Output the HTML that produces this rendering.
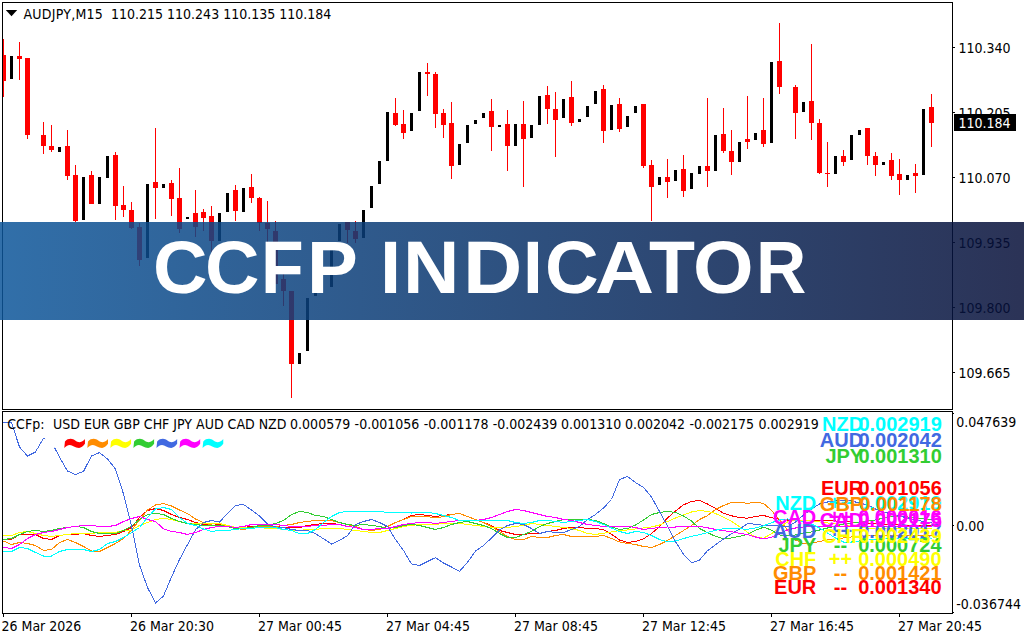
<!DOCTYPE html>
<html><head><meta charset="utf-8"><title>CCFP Indicator</title>
<style>
html,body{margin:0;padding:0;background:#fff;}
body{width:1024px;height:640px;overflow:hidden;position:relative;}
.t{position:absolute;white-space:pre;font-family:'DejaVu Sans Condensed','DejaVu Sans',sans-serif;font-stretch:condensed;font-size:14px;line-height:16px;}
.b{position:absolute;white-space:pre;font-family:'Liberation Sans',Arial,sans-serif;font-size:20px;line-height:22px;font-weight:bold;}
#ban{position:absolute;left:0;top:222px;width:1024px;height:98px;background:linear-gradient(to right,rgba(13,86,154,0.85),rgba(6,15,57,0.85));}
#bt{position:absolute;left:0;top:222px;width:1024px;height:98px;}
#bt span{position:absolute;top:-3.0px;font-family:'Liberation Sans',Arial,sans-serif;font-weight:bold;font-size:74px;line-height:98px;color:#fff;white-space:pre;transform-origin:0 0;}
</style></head><body>
<svg width="1024" height="640" style="position:absolute;left:0;top:0">
<g shape-rendering="crispEdges" fill="none" stroke="#000" stroke-width="1"><rect x="2.5" y="2.5" width="950" height="407"/><rect x="2.5" y="411.5" width="950" height="202"/><line x1="953" y1="47.5" x2="955" y2="47.5"/><line x1="953" y1="112.5" x2="955" y2="112.5"/><line x1="953" y1="177.5" x2="955" y2="177.5"/><line x1="953" y1="242.5" x2="955" y2="242.5"/><line x1="953" y1="307.5" x2="955" y2="307.5"/><line x1="953" y1="372.5" x2="955" y2="372.5"/><line x1="953" y1="413.5" x2="954" y2="413.5"/><line x1="953" y1="525.5" x2="954" y2="525.5"/><line x1="953" y1="612.5" x2="954" y2="612.5"/><line x1="3.5" y1="614" x2="3.5" y2="617"/><line x1="131.5" y1="614" x2="131.5" y2="617"/><line x1="259.5" y1="614" x2="259.5" y2="617"/><line x1="387.5" y1="614" x2="387.5" y2="617"/><line x1="515.5" y1="614" x2="515.5" y2="617"/><line x1="643.5" y1="614" x2="643.5" y2="617"/><line x1="771.5" y1="614" x2="771.5" y2="617"/><line x1="899.5" y1="614" x2="899.5" y2="617"/></g><polygon points="5.8,10 17.2,10 11.5,16.2" fill="#000"/><g shape-rendering="crispEdges"><rect x="3" y="39" width="1" height="58" fill="#f00"/>
<rect x="3" y="55" width="3" height="26" fill="#f00"/>
<rect x="10" y="56" width="3" height="23" fill="#000"/>
<rect x="19" y="42" width="1" height="38" fill="#f00"/>
<rect x="17" y="56" width="5" height="3" fill="#f00"/>
<rect x="27" y="58" width="1" height="81" fill="#f00"/>
<rect x="25" y="58" width="5" height="77" fill="#f00"/>
<rect x="43" y="122" width="1" height="32" fill="#f00"/>
<rect x="41" y="135" width="5" height="11" fill="#f00"/>
<rect x="51" y="125" width="1" height="27" fill="#f00"/>
<rect x="49" y="146" width="5" height="4" fill="#f00"/>
<rect x="58" y="147" width="3" height="5" fill="#000"/>
<rect x="67" y="130" width="1" height="50" fill="#f00"/>
<rect x="65" y="146" width="5" height="30" fill="#f00"/>
<rect x="75" y="165" width="1" height="57" fill="#f00"/>
<rect x="73" y="175" width="5" height="46" fill="#f00"/>
<rect x="82" y="177" width="3" height="43" fill="#000"/>
<rect x="91" y="171" width="1" height="33" fill="#f00"/>
<rect x="89" y="175" width="5" height="29" fill="#f00"/>
<rect x="98" y="177" width="3" height="27" fill="#000"/>
<rect x="106" y="156" width="3" height="22" fill="#000"/>
<rect x="115" y="152" width="1" height="68" fill="#f00"/>
<rect x="113" y="155" width="5" height="51" fill="#f00"/>
<rect x="123" y="186" width="1" height="31" fill="#f00"/>
<rect x="121" y="205" width="5" height="5" fill="#f00"/>
<rect x="131" y="202" width="1" height="27" fill="#f00"/>
<rect x="129" y="210" width="5" height="18" fill="#f00"/>
<rect x="139" y="223" width="1" height="43" fill="#f00"/>
<rect x="137" y="227" width="5" height="33" fill="#f00"/>
<rect x="146" y="184" width="3" height="74" fill="#000"/>
<rect x="155" y="128" width="1" height="91" fill="#f00"/>
<rect x="153" y="182" width="5" height="6" fill="#f00"/>
<rect x="162" y="184" width="3" height="4" fill="#000"/>
<rect x="171" y="180" width="1" height="36" fill="#f00"/>
<rect x="169" y="183" width="5" height="16" fill="#f00"/>
<rect x="179" y="168" width="1" height="65" fill="#f00"/>
<rect x="177" y="198" width="5" height="31" fill="#f00"/>
<rect x="186" y="217" width="3" height="2" fill="#000"/>
<rect x="195" y="190" width="1" height="47" fill="#f00"/>
<rect x="193" y="213" width="5" height="14" fill="#f00"/>
<rect x="203" y="209" width="1" height="22" fill="#f00"/>
<rect x="201" y="212" width="5" height="6" fill="#f00"/>
<rect x="211" y="206" width="1" height="46" fill="#f00"/>
<rect x="209" y="216" width="5" height="25" fill="#f00"/>
<rect x="218" y="213" width="3" height="28" fill="#000"/>
<rect x="226" y="193" width="3" height="19" fill="#000"/>
<rect x="235" y="185" width="1" height="36" fill="#f00"/>
<rect x="233" y="190" width="5" height="21" fill="#f00"/>
<rect x="242" y="188" width="3" height="24" fill="#000"/>
<rect x="251" y="174" width="1" height="29" fill="#f00"/>
<rect x="249" y="187" width="5" height="11" fill="#f00"/>
<rect x="259" y="197" width="1" height="34" fill="#f00"/>
<rect x="257" y="198" width="5" height="25" fill="#f00"/>
<rect x="267" y="201" width="1" height="41" fill="#f00"/>
<rect x="265" y="223" width="5" height="6" fill="#f00"/>
<rect x="275" y="221" width="1" height="63" fill="#f00"/>
<rect x="273" y="231" width="5" height="53" fill="#f00"/>
<rect x="283" y="274" width="1" height="32" fill="#f00"/>
<rect x="281" y="279" width="5" height="12" fill="#f00"/>
<rect x="291" y="291" width="1" height="107" fill="#f00"/>
<rect x="289" y="291" width="5" height="73" fill="#f00"/>
<rect x="298" y="353" width="3" height="11" fill="#000"/>
<rect x="306" y="298" width="3" height="53" fill="#000"/>
<rect x="314" y="293" width="3" height="3" fill="#000"/>
<rect x="330" y="250" width="3" height="37" fill="#000"/>
<rect x="338" y="224" width="3" height="17" fill="#000"/>
<rect x="347" y="222" width="1" height="21" fill="#f00"/>
<rect x="345" y="222" width="5" height="8" fill="#f00"/>
<rect x="355" y="221" width="1" height="22" fill="#f00"/>
<rect x="353" y="231" width="5" height="8" fill="#f00"/>
<rect x="362" y="210" width="3" height="28" fill="#000"/>
<rect x="370" y="186" width="3" height="22" fill="#000"/>
<rect x="378" y="161" width="3" height="23" fill="#000"/>
<rect x="386" y="112" width="3" height="49" fill="#000"/>
<rect x="395" y="98" width="1" height="28" fill="#f00"/>
<rect x="393" y="113" width="5" height="12" fill="#f00"/>
<rect x="403" y="110" width="1" height="29" fill="#f00"/>
<rect x="401" y="124" width="5" height="9" fill="#f00"/>
<rect x="410" y="113" width="3" height="18" fill="#000"/>
<rect x="418" y="72" width="3" height="39" fill="#000"/>
<rect x="427" y="63" width="1" height="33" fill="#f00"/>
<rect x="425" y="72" width="5" height="2" fill="#f00"/>
<rect x="435" y="72" width="1" height="56" fill="#f00"/>
<rect x="433" y="74" width="5" height="40" fill="#f00"/>
<rect x="443" y="109" width="1" height="29" fill="#f00"/>
<rect x="441" y="113" width="5" height="12" fill="#f00"/>
<rect x="451" y="102" width="1" height="77" fill="#f00"/>
<rect x="449" y="123" width="5" height="43" fill="#f00"/>
<rect x="458" y="144" width="3" height="21" fill="#000"/>
<rect x="466" y="125" width="3" height="18" fill="#000"/>
<rect x="474" y="120" width="3" height="4" fill="#000"/>
<rect x="482" y="113" width="3" height="5" fill="#000"/>
<rect x="491" y="99" width="1" height="52" fill="#f00"/>
<rect x="489" y="111" width="5" height="16" fill="#f00"/>
<rect x="498" y="125" width="3" height="2" fill="#000"/>
<rect x="507" y="110" width="1" height="61" fill="#f00"/>
<rect x="505" y="124" width="5" height="22" fill="#f00"/>
<rect x="514" y="124" width="3" height="22" fill="#000"/>
<rect x="523" y="101" width="1" height="86" fill="#f00"/>
<rect x="521" y="124" width="5" height="15" fill="#f00"/>
<rect x="530" y="125" width="3" height="13" fill="#000"/>
<rect x="538" y="96" width="3" height="29" fill="#000"/>
<rect x="547" y="86" width="1" height="38" fill="#f00"/>
<rect x="545" y="95" width="5" height="14" fill="#f00"/>
<rect x="555" y="92" width="1" height="65" fill="#f00"/>
<rect x="553" y="109" width="5" height="11" fill="#f00"/>
<rect x="562" y="99" width="3" height="19" fill="#000"/>
<rect x="571" y="81" width="1" height="45" fill="#f00"/>
<rect x="569" y="97" width="5" height="26" fill="#f00"/>
<rect x="578" y="119" width="3" height="3" fill="#000"/>
<rect x="586" y="106" width="3" height="11" fill="#000"/>
<rect x="594" y="91" width="3" height="13" fill="#000"/>
<rect x="603" y="85" width="1" height="58" fill="#f00"/>
<rect x="601" y="89" width="5" height="42" fill="#f00"/>
<rect x="610" y="105" width="3" height="25" fill="#000"/>
<rect x="619" y="98" width="1" height="34" fill="#f00"/>
<rect x="617" y="104" width="5" height="25" fill="#f00"/>
<rect x="626" y="116" width="3" height="11" fill="#000"/>
<rect x="634" y="106" width="3" height="7" fill="#000"/>
<rect x="643" y="104" width="1" height="64" fill="#f00"/>
<rect x="641" y="104" width="5" height="62" fill="#f00"/>
<rect x="651" y="160" width="1" height="61" fill="#f00"/>
<rect x="649" y="165" width="5" height="22" fill="#f00"/>
<rect x="658" y="177" width="3" height="8" fill="#000"/>
<rect x="667" y="159" width="1" height="39" fill="#f00"/>
<rect x="665" y="177" width="5" height="5" fill="#f00"/>
<rect x="674" y="170" width="3" height="11" fill="#000"/>
<rect x="683" y="155" width="1" height="42" fill="#f00"/>
<rect x="681" y="169" width="5" height="22" fill="#f00"/>
<rect x="690" y="173" width="3" height="16" fill="#000"/>
<rect x="698" y="166" width="3" height="8" fill="#000"/>
<rect x="707" y="98" width="1" height="89" fill="#f00"/>
<rect x="705" y="166" width="5" height="5" fill="#f00"/>
<rect x="714" y="135" width="3" height="36" fill="#000"/>
<rect x="723" y="108" width="1" height="45" fill="#f00"/>
<rect x="721" y="134" width="5" height="17" fill="#f00"/>
<rect x="731" y="130" width="1" height="45" fill="#f00"/>
<rect x="729" y="151" width="5" height="11" fill="#f00"/>
<rect x="738" y="142" width="3" height="20" fill="#000"/>
<rect x="747" y="96" width="1" height="53" fill="#f00"/>
<rect x="745" y="139" width="5" height="3" fill="#f00"/>
<rect x="754" y="133" width="3" height="7" fill="#000"/>
<rect x="763" y="98" width="1" height="49" fill="#f00"/>
<rect x="761" y="130" width="5" height="14" fill="#f00"/>
<rect x="770" y="62" width="3" height="81" fill="#000"/>
<rect x="779" y="23" width="1" height="71" fill="#f00"/>
<rect x="777" y="61" width="5" height="26" fill="#f00"/>
<rect x="795" y="85" width="1" height="54" fill="#f00"/>
<rect x="793" y="87" width="5" height="26" fill="#f00"/>
<rect x="802" y="102" width="3" height="10" fill="#000"/>
<rect x="811" y="44" width="1" height="96" fill="#f00"/>
<rect x="809" y="101" width="5" height="22" fill="#f00"/>
<rect x="819" y="119" width="1" height="55" fill="#f00"/>
<rect x="817" y="123" width="5" height="50" fill="#f00"/>
<rect x="827" y="142" width="1" height="45" fill="#f00"/>
<rect x="825" y="173" width="5" height="1" fill="#f00"/>
<rect x="834" y="156" width="3" height="18" fill="#000"/>
<rect x="843" y="150" width="1" height="16" fill="#f00"/>
<rect x="841" y="156" width="5" height="6" fill="#f00"/>
<rect x="850" y="135" width="3" height="25" fill="#000"/>
<rect x="858" y="130" width="3" height="5" fill="#000"/>
<rect x="867" y="128" width="1" height="37" fill="#f00"/>
<rect x="865" y="128" width="5" height="28" fill="#f00"/>
<rect x="875" y="152" width="1" height="24" fill="#f00"/>
<rect x="873" y="156" width="5" height="9" fill="#f00"/>
<rect x="882" y="162" width="3" height="3" fill="#000"/>
<rect x="891" y="153" width="1" height="27" fill="#f00"/>
<rect x="889" y="160" width="5" height="16" fill="#f00"/>
<rect x="899" y="159" width="1" height="36" fill="#f00"/>
<rect x="897" y="174" width="5" height="6" fill="#f00"/>
<rect x="906" y="175" width="3" height="5" fill="#000"/>
<rect x="915" y="164" width="1" height="29" fill="#f00"/>
<rect x="913" y="173" width="5" height="3" fill="#f00"/>
<rect x="922" y="109" width="3" height="66" fill="#000"/>
<rect x="931" y="94" width="1" height="53" fill="#f00"/>
<rect x="929" y="107" width="5" height="16" fill="#f00"/></g><svg x="3" y="412" width="949" height="201" overflow="hidden"><g transform="translate(-3,-412)"><polyline points="3,539.5 3.5,539.5 11.5,539.5 19.5,534.5 27.5,534.5 35.5,534.5 43.5,538.5 51.5,539.5 59.5,535.5 67.5,534.5 75.5,534.5 83.5,533.5 91.5,535.5 99.5,536.5 107.5,535.5 115.5,534.5 123.5,531.5 131.5,527.5 139.5,517.5 147.5,510.5 155.5,508.5 163.5,510.5 171.5,514.5 179.5,517.5 187.5,519.5 195.5,522.5 203.5,524.5 211.5,525.5 219.5,524.5 227.5,525.5 235.5,527.5 243.5,527.5 251.5,526.5 259.5,526.5 267.5,526.5 275.5,526.5 283.5,527.5 291.5,527.5 299.5,527.5 307.5,525.5 315.5,524.5 323.5,523.5 331.5,523.5 339.5,524.5 347.5,526.5 355.5,527.5 363.5,529.5 371.5,529.5 379.5,528.5 387.5,526.5 395.5,522.5 403.5,519.5 411.5,515.5 419.5,514.5 427.5,515.5 435.5,516.5 443.5,515.5 451.5,514.5 459.5,513.5 467.5,516.5 475.5,519.5 483.5,522.5 491.5,525.5 499.5,530.5 507.5,532.5 515.5,534.5 523.5,534.5 531.5,533.5 539.5,533.5 547.5,531.5 555.5,530.5 563.5,528.5 571.5,527.5 579.5,527.5 587.5,528.5 595.5,528.5 603.5,529.7 611.5,534.2 619.5,540 627.5,542.5 635.5,541.5 643.5,538.8 651.5,533.5 659.5,526.8 667.5,518 675.5,511 683.5,504.8 691.5,501.5 699.5,500.5 707.5,504 715.5,508.3 723.5,513.2 731.5,515.8 739.5,517.5 747.5,518.2 755.5,516.5 763.5,515.4 771.5,517.8 779.5,519.2 787.5,520 795.5,520 803.5,520 811.5,520 819.5,520 827.5,520.5 835.5,521 843.5,521.5 851.5,522 859.5,522.5 867.5,523 875.5,523.5 883.5,524 891.5,524.5 899.5,525 907.5,525 915.5,525 923.5,525 931.5,525" fill="none" stroke="#ff0000" stroke-width="1" shape-rendering="crispEdges"/><polyline points="3,541 3.5,541 11.5,544.5 19.5,542.5 27.5,543.5 35.5,545.5 43.5,550.5 51.5,549.5 59.5,542.5 67.5,539.5 75.5,542.5 83.5,546.5 91.5,551 99.5,551.5 107.5,547.5 115.5,543.5 123.5,538.5 131.5,530 139.5,520 147.5,510 155.5,505 163.5,503.5 171.5,506 179.5,510 187.5,513.5 195.5,519 203.5,522.5 211.5,525 219.5,525 227.5,526.5 235.5,528.5 243.5,529.5 251.5,527.5 259.5,526.5 267.5,526.5 275.5,526.5 283.5,525.5 291.5,524.5 299.5,522.5 307.5,521.5 315.5,520.5 323.5,520.5 331.5,520.5 339.5,522.5 347.5,524.5 355.5,526.5 363.5,529.5 371.5,530.5 379.5,529.5 387.5,526.5 395.5,522.5 403.5,519.5 411.5,516.5 419.5,516.5 427.5,516.5 435.5,518 443.5,516.5 451.5,514.5 459.5,513.5 467.5,516.5 475.5,519.5 483.5,522.5 491.5,526.5 499.5,531.5 507.5,536.5 515.5,539.5 523.5,539.5 531.5,536.5 539.5,537.5 547.5,537.5 555.5,535.5 563.5,534.5 571.5,536.5 579.5,536.5 587.5,536.5 595.5,536.5 603.5,535.5 611.5,538.5 619.5,542 627.5,543.5 635.5,544.5 643.5,546.5 651.5,547.5 659.5,544.5 667.5,540.5 675.5,535.5 683.5,530.5 691.5,525.5 699.5,519.5 707.5,515.6 715.5,509.5 723.5,505.5 731.5,502.5 739.5,502.3 747.5,503.3 755.5,502.5 763.5,503.3 771.5,510.5 779.5,519.5 787.5,530 795.5,540 803.5,543.5 811.5,543 819.5,541.5 827.5,540 835.5,539 843.5,538 851.5,537 859.5,536.5 867.5,536 875.5,535.5 883.5,535 891.5,535 899.5,535 907.5,535 915.5,535 923.5,535 931.5,535" fill="none" stroke="#ff8c00" stroke-width="1" shape-rendering="crispEdges"/><polyline points="3,535.5 3.5,535.5 11.5,535.5 19.5,532.5 27.5,531.5 35.5,533.5 43.5,535.5 51.5,536.5 59.5,535.5 67.5,534.5 75.5,533.5 83.5,533.5 91.5,533.5 99.5,532.5 107.5,532.5 115.5,532.5 123.5,530.5 131.5,530 139.5,525.5 147.5,522.5 155.5,519.5 163.5,518.5 171.5,519.5 179.5,521.5 187.5,523.5 195.5,523.5 203.5,523.5 211.5,523.5 219.5,523.5 227.5,525.5 235.5,527.5 243.5,527.5 251.5,527.5 259.5,527.5 267.5,528.5 275.5,528.5 283.5,529.5 291.5,530.5 299.5,530.5 307.5,529.5 315.5,529.5 323.5,528.5 331.5,528.5 339.5,528.5 347.5,529.5 355.5,530.5 363.5,531.5 371.5,532.5 379.5,532.5 387.5,530.5 395.5,528.5 403.5,526.5 411.5,525.5 419.5,524.5 427.5,524.5 435.5,524.5 443.5,523.5 451.5,523.5 459.5,523.5 467.5,524.5 475.5,525.5 483.5,526.5 491.5,527.5 499.5,527.5 507.5,527.5 515.5,526.5 523.5,525.5 531.5,523.5 539.5,524.5 547.5,525.5 555.5,526.5 563.5,527.5 571.5,528.5 579.5,530.5 587.5,533.5 595.5,534.5 603.5,533.2 611.5,532 619.5,530.5 627.5,530 635.5,529 643.5,528 651.5,527 659.5,525 667.5,521.5 675.5,518 683.5,515 691.5,512 699.5,510.5 707.5,511.4 715.5,513.5 723.5,517.2 731.5,521.4 739.5,526.6 747.5,532.2 755.5,536.8 763.5,538.2 771.5,533.7 779.5,527.5 787.5,522 795.5,520 803.5,520 811.5,521 819.5,522 827.5,523 835.5,524 843.5,525 851.5,526 859.5,527 867.5,528 875.5,528 883.5,528 891.5,528 899.5,528 907.5,528 915.5,528 923.5,528 931.5,528" fill="none" stroke="#ffff00" stroke-width="1" shape-rendering="crispEdges"/><polyline points="3,539.5 3.5,539.5 11.5,538.5 19.5,534.5 27.5,531.5 35.5,530.5 43.5,531.5 51.5,530.5 59.5,528.5 67.5,527.5 75.5,526.5 83.5,527.5 91.5,531.5 99.5,533.5 107.5,533.5 115.5,533.5 123.5,530.5 131.5,526 139.5,519.5 147.5,514.5 155.5,513.5 163.5,514.5 171.5,518.5 179.5,521.5 187.5,523.5 195.5,524.5 203.5,525.5 211.5,525.5 219.5,525.5 227.5,526.5 235.5,528.5 243.5,528.5 251.5,527.5 259.5,525.5 267.5,525.5 275.5,523.5 283.5,520.5 291.5,514.5 299.5,511.5 307.5,512.5 315.5,515.5 323.5,516.5 331.5,519.5 339.5,522.5 347.5,524.5 355.5,525.5 363.5,524.5 371.5,525.5 379.5,526.5 387.5,528.5 395.5,527.5 403.5,525.5 411.5,524.5 419.5,525.5 427.5,527.5 435.5,529.5 443.5,527.5 451.5,524.5 459.5,522.5 467.5,521.5 475.5,523.5 483.5,525.5 491.5,528.5 499.5,533.5 507.5,537.5 515.5,537.5 523.5,534.5 531.5,531.5 539.5,526.5 547.5,523.5 555.5,521.5 563.5,519.5 571.5,519.5 579.5,519.5 587.5,519.5 595.5,520.5 603.5,523.5 611.5,527 619.5,529.5 627.5,528.5 635.5,525 643.5,520 651.5,514.5 659.5,512.5 667.5,511.5 675.5,512.5 683.5,516 691.5,521 699.5,528.5 707.5,532.6 715.5,536.4 723.5,538.7 731.5,538 739.5,536.4 747.5,534.3 755.5,530.3 763.5,527.2 771.5,530.1 779.5,535 787.5,536 795.5,535 803.5,533 811.5,532 819.5,530 827.5,528 835.5,526 843.5,524 851.5,523 859.5,522 867.5,521 875.5,520 883.5,518 891.5,516 899.5,516 907.5,517 915.5,518 923.5,519 931.5,520" fill="none" stroke="#32cd32" stroke-width="1" shape-rendering="crispEdges"/><polyline points="3,422.6 3.5,422.6 11.5,422.6 19.5,447 27.5,456 35.5,452 43.5,438.2 51.5,442 59.5,457 67.5,471 75.5,474.5 83.5,471.4 91.5,456 99.5,452.6 107.5,459 115.5,469 123.5,494 131.5,526 139.5,565 147.5,587.5 155.5,603 163.5,596 171.5,577 179.5,559.5 187.5,544.6 195.5,529.75 203.5,522.5 211.5,520.5 219.5,522 227.5,513.5 235.5,505.5 243.5,504.5 251.5,510 259.5,516 267.5,524 275.5,527 283.5,527.5 291.5,529.5 299.5,530.5 307.5,530.5 315.5,533.75 323.5,538.75 331.5,544 339.5,540.5 347.5,535.5 355.5,524.5 363.5,521.5 371.5,519.5 379.5,522.5 387.5,526.5 395.5,539.5 403.5,550.5 411.5,564 419.5,565.5 427.5,561.5 435.5,557.6 443.5,563 451.5,567 459.5,571.3 467.5,562.3 475.5,551 483.5,545.5 491.5,538 499.5,530 507.5,525.5 515.5,523.5 523.5,524.5 531.5,528.5 539.5,533.5 547.5,531.5 555.5,532.5 563.5,532.5 571.5,529.5 579.5,526.5 587.5,519.5 595.5,514.5 603.5,508 611.5,499.5 619.5,479.5 627.5,476.5 635.5,482.5 643.5,487.5 651.5,497 659.5,511.5 667.5,526 675.5,541.6 683.5,554.2 691.5,562.8 699.5,560 707.5,550.7 715.5,544.7 723.5,539 731.5,533.8 739.5,529 747.5,523.6 755.5,524.2 763.5,525.4 771.5,525.3 779.5,526.2 787.5,527 795.5,522 803.5,515 811.5,509 819.5,504 827.5,502 835.5,501 843.5,500.5 851.5,501 859.5,503 867.5,505 875.5,509 883.5,512 891.5,514 899.5,516 907.5,518 915.5,520 923.5,521.5 931.5,523" fill="none" stroke="#4169e1" stroke-width="1" shape-rendering="crispEdges"/><polyline points="3,547.5 3.5,547.5 11.5,548.5 19.5,544.5 27.5,538.5 35.5,534.5 43.5,532.5 51.5,531.5 59.5,529.5 67.5,527.5 75.5,526.5 83.5,525.5 91.5,525.5 99.5,526.5 107.5,526.5 115.5,525.5 123.5,521.5 131.5,518.5 139.5,516.5 147.5,519.5 155.5,521.5 163.5,528.75 171.5,531.5 179.5,532.5 187.5,534.5 195.5,532.5 203.5,529.5 211.5,527.5 219.5,526.5 227.5,526.5 235.5,527.5 243.5,526.5 251.5,524.5 259.5,524.5 267.5,524.5 275.5,524.5 283.5,525.5 291.5,526.5 299.5,526.5 307.5,526.5 315.5,525.5 323.5,525.5 331.5,524.5 339.5,524.5 347.5,526.5 355.5,527.5 363.5,529.5 371.5,529.5 379.5,528.5 387.5,528.5 395.5,526.5 403.5,524.5 411.5,523.5 419.5,522.5 427.5,522.5 435.5,523.5 443.5,522.5 451.5,521.5 459.5,520.5 467.5,520.5 475.5,520.5 483.5,519.5 491.5,517.5 499.5,514.5 507.5,511.5 515.5,509.5 523.5,510.5 531.5,512.5 539.5,514.5 547.5,516.5 555.5,517.5 563.5,519.5 571.5,520.5 579.5,522.5 587.5,524.5 595.5,525.5 603.5,526.5 611.5,526.5 619.5,526.5 627.5,526.5 635.5,527.5 643.5,529.5 651.5,528.5 659.5,527.5 667.5,527 675.5,527 683.5,526.5 691.5,526.5 699.5,526.5 707.5,527.8 715.5,529.4 723.5,530.6 731.5,531.8 739.5,533.3 747.5,534.5 755.5,537 763.5,539 771.5,537.2 779.5,533.7 787.5,530 795.5,528 803.5,527 811.5,526 819.5,526 827.5,526 835.5,526 843.5,526 851.5,526 859.5,526 867.5,526 875.5,526 883.5,526 891.5,526 899.5,526 907.5,526 915.5,526 923.5,526 931.5,526" fill="none" stroke="#ff00ff" stroke-width="1" shape-rendering="crispEdges"/><polyline points="3,551.5 3.5,551.5 11.5,551.5 19.5,547.5 27.5,548.5 35.5,552.5 43.5,556 51.5,556 59.5,551.5 67.5,549.5 75.5,549.5 83.5,549.5 91.5,551.5 99.5,549.5 107.5,543.5 115.5,541.5 123.5,537.5 131.5,532.5 139.5,527.5 147.5,517.5 155.5,509 163.5,507.5 171.5,509.5 179.5,517.5 187.5,523.5 195.5,525.5 203.5,529 211.5,531.5 219.5,530.5 227.5,530.5 235.5,529.5 243.5,528.5 251.5,528.5 259.5,527.5 267.5,527.5 275.5,527.5 283.5,529.5 291.5,530.5 299.5,533.75 307.5,533.5 315.5,529.5 323.5,522.5 331.5,516.5 339.5,512.5 347.5,511.5 355.5,511.5 363.5,511.5 371.5,511.5 379.5,511.5 387.5,512.5 395.5,512.5 403.5,512.5 411.5,513 419.5,512.5 427.5,512.5 435.5,513.5 443.5,515.5 451.5,517.5 459.5,520.5 467.5,520.5 475.5,520.5 483.5,520.5 491.5,520.5 499.5,520.5 507.5,520.5 515.5,522.5 523.5,523.5 531.5,522.5 539.5,520.5 547.5,520.5 555.5,521.5 563.5,522.5 571.5,521.5 579.5,520.5 587.5,519.5 595.5,521.5 603.5,524.5 611.5,528 619.5,531.5 627.5,533.5 635.5,531.5 643.5,532.5 651.5,535.5 659.5,539.5 667.5,541.6 675.5,541 683.5,538.6 691.5,536.3 699.5,534.6 707.5,532.5 715.5,530.2 723.5,528.7 731.5,528.4 739.5,528.8 747.5,529.3 755.5,528 763.5,525.8 771.5,522.7 779.5,520 787.5,519 795.5,520 803.5,522 811.5,524 819.5,528 827.5,533 835.5,538 843.5,542 851.5,542 859.5,541 867.5,540 875.5,539.5 883.5,539 891.5,538.5 899.5,538 907.5,538 915.5,538 923.5,538 931.5,538" fill="none" stroke="#00ffff" stroke-width="1" shape-rendering="crispEdges"/></g></svg><path transform="translate(41.20,438.8)" d="M0,9.2 L0.7,2.7 C2.3,0.7 4.3,0 6.5,0 C9.8,0 12.3,3.5 15.3,3.5 C17.8,3.5 19.8,1.2 20.7,0.3 L20.7,4.9 C18.8,7.2 16.8,9.1 14.8,9.1 C10.8,9.1 8.3,6.1 5.6,6.1 C3.3,6.1 1.3,7.7 0,9.2 Z" fill="#ffffff"/><path transform="translate(64.25,438.8)" d="M0,9.2 L0.7,2.7 C2.3,0.7 4.3,0 6.5,0 C9.8,0 12.3,3.5 15.3,3.5 C17.8,3.5 19.8,1.2 20.7,0.3 L20.7,4.9 C18.8,7.2 16.8,9.1 14.8,9.1 C10.8,9.1 8.3,6.1 5.6,6.1 C3.3,6.1 1.3,7.7 0,9.2 Z" fill="#ff0000"/><path transform="translate(87.30,438.8)" d="M0,9.2 L0.7,2.7 C2.3,0.7 4.3,0 6.5,0 C9.8,0 12.3,3.5 15.3,3.5 C17.8,3.5 19.8,1.2 20.7,0.3 L20.7,4.9 C18.8,7.2 16.8,9.1 14.8,9.1 C10.8,9.1 8.3,6.1 5.6,6.1 C3.3,6.1 1.3,7.7 0,9.2 Z" fill="#ff8c00"/><path transform="translate(110.35,438.8)" d="M0,9.2 L0.7,2.7 C2.3,0.7 4.3,0 6.5,0 C9.8,0 12.3,3.5 15.3,3.5 C17.8,3.5 19.8,1.2 20.7,0.3 L20.7,4.9 C18.8,7.2 16.8,9.1 14.8,9.1 C10.8,9.1 8.3,6.1 5.6,6.1 C3.3,6.1 1.3,7.7 0,9.2 Z" fill="#ffff00"/><path transform="translate(133.40,438.8)" d="M0,9.2 L0.7,2.7 C2.3,0.7 4.3,0 6.5,0 C9.8,0 12.3,3.5 15.3,3.5 C17.8,3.5 19.8,1.2 20.7,0.3 L20.7,4.9 C18.8,7.2 16.8,9.1 14.8,9.1 C10.8,9.1 8.3,6.1 5.6,6.1 C3.3,6.1 1.3,7.7 0,9.2 Z" fill="#32cd32"/><path transform="translate(156.45,438.8)" d="M0,9.2 L0.7,2.7 C2.3,0.7 4.3,0 6.5,0 C9.8,0 12.3,3.5 15.3,3.5 C17.8,3.5 19.8,1.2 20.7,0.3 L20.7,4.9 C18.8,7.2 16.8,9.1 14.8,9.1 C10.8,9.1 8.3,6.1 5.6,6.1 C3.3,6.1 1.3,7.7 0,9.2 Z" fill="#4169e1"/><path transform="translate(179.50,438.8)" d="M0,9.2 L0.7,2.7 C2.3,0.7 4.3,0 6.5,0 C9.8,0 12.3,3.5 15.3,3.5 C17.8,3.5 19.8,1.2 20.7,0.3 L20.7,4.9 C18.8,7.2 16.8,9.1 14.8,9.1 C10.8,9.1 8.3,6.1 5.6,6.1 C3.3,6.1 1.3,7.7 0,9.2 Z" fill="#ff00ff"/><path transform="translate(202.55,438.8)" d="M0,9.2 L0.7,2.7 C2.3,0.7 4.3,0 6.5,0 C9.8,0 12.3,3.5 15.3,3.5 C17.8,3.5 19.8,1.2 20.7,0.3 L20.7,4.9 C18.8,7.2 16.8,9.1 14.8,9.1 C10.8,9.1 8.3,6.1 5.6,6.1 C3.3,6.1 1.3,7.7 0,9.2 Z" fill="#00ffff"/>
</svg>
<div class="t" style="left:23.5px;top:5.90px;color:#000;letter-spacing:0.25px;">AUDJPY,M15</div><div class="t" style="left:111px;top:5.90px;color:#000;">110.215 110.243 110.135 110.184</div><div class="t" style="left:958.5px;top:40.15px;color:#000;">110.340</div><div class="t" style="left:958.5px;top:105.15px;color:#000;">110.205</div><div class="t" style="left:958.5px;top:170.15px;color:#000;">110.070</div><div class="t" style="left:958.5px;top:235.15px;color:#000;">109.935</div><div class="t" style="left:958.5px;top:300.15px;color:#000;">109.800</div><div class="t" style="left:958.5px;top:365.15px;color:#000;">109.665</div><div style="position:absolute;left:954px;top:114px;width:62px;height:17px;background:#000"></div><div class="t" style="left:958.5px;top:115.15px;color:#fff;">110.184</div><div class="t" style="left:956.3px;top:414.15px;color:#000;">0.047639</div><div class="t" style="left:956.3px;top:517.75px;color:#000;">0.00</div><div class="t" style="left:956.3px;top:596.15px;color:#000;">-0.036744</div><div class="t" style="left:7.3px;top:415.90px;color:#000;">CCFp:</div><div class="t" style="left:53.0px;top:415.90px;color:#000;">USD EUR GBP CHF JPY AUD CAD NZD</div><div class="t" style="left:290.1px;top:415.90px;color:#000;">0.000579</div><div class="t" style="left:354.59999999999997px;top:415.90px;color:#000;">-0.001056</div><div class="t" style="left:423.79999999999995px;top:415.90px;color:#000;">-0.001178</div><div class="t" style="left:492.7px;top:415.90px;color:#000;">-0.002439</div><div class="t" style="left:561.1px;top:415.90px;color:#000;">0.001310</div><div class="t" style="left:624.9px;top:415.90px;color:#000;">0.002042</div><div class="t" style="left:689.4px;top:415.90px;color:#000;">-0.002175</div><div class="t" style="left:758.6px;top:415.90px;color:#000;">0.002919</div><div class="t" style="left:1.5px;top:617.75px;color:#000;">26 Mar 2026</div><div class="t" style="left:129.9px;top:617.75px;color:#000;">26 Mar 20:30</div><div class="t" style="left:257.9px;top:617.75px;color:#000;">27 Mar 00:45</div><div class="t" style="left:385.9px;top:617.75px;color:#000;">27 Mar 04:45</div><div class="t" style="left:513.9px;top:617.75px;color:#000;">27 Mar 08:45</div><div class="t" style="left:641.9px;top:617.75px;color:#000;">27 Mar 12:45</div><div class="t" style="left:769.9px;top:617.75px;color:#000;">27 Mar 16:45</div><div class="t" style="left:897.9px;top:617.75px;color:#000;">27 Mar 20:45</div>
<div class="b" style="right:207.70px;top:478.10px;color:#ffffff">USD</div><div class="b" style="left:840.50px;top:478.10px;transform:translateX(-50%);color:#ffffff">++</div><div class="b" style="right:82.40px;top:478.10px;color:#ffffff">0.000579</div><div class="b" style="right:207.70px;top:492.10px;color:#00ffff">NZD</div><div class="b" style="left:840.50px;top:492.10px;transform:translateX(-50%);color:#00ffff">++</div><div class="b" style="right:82.40px;top:492.10px;color:#00ffff">0.002919</div><div class="b" style="right:207.70px;top:506.10px;color:#ff00ff">CAD</div><div class="b" style="left:840.50px;top:506.10px;transform:translateX(-50%);color:#ff00ff">++</div><div class="b" style="right:82.40px;top:506.10px;color:#ff00ff">0.000016</div><div class="b" style="right:207.70px;top:520.10px;color:#4169e1">AUD</div><div class="b" style="left:840.50px;top:520.10px;transform:translateX(-50%);color:#4169e1">++</div><div class="b" style="right:82.40px;top:520.10px;color:#4169e1">0.002017</div><div class="b" style="right:207.70px;top:534.10px;color:#32cd32">JPY</div><div class="b" style="left:840.50px;top:534.10px;transform:translateX(-50%);color:#32cd32">--</div><div class="b" style="right:82.40px;top:534.10px;color:#32cd32">0.000724</div><div class="b" style="right:207.70px;top:548.10px;color:#ffff00">CHF</div><div class="b" style="left:840.50px;top:548.10px;transform:translateX(-50%);color:#ffff00">++</div><div class="b" style="right:82.40px;top:548.10px;color:#ffff00">0.000490</div><div class="b" style="right:207.70px;top:562.10px;color:#ff8c00">GBP</div><div class="b" style="left:840.50px;top:562.10px;transform:translateX(-50%);color:#ff8c00">--</div><div class="b" style="right:82.40px;top:562.10px;color:#ff8c00">0.001421</div><div class="b" style="right:207.70px;top:576.10px;color:#ff0000">EUR</div><div class="b" style="left:840.50px;top:576.10px;transform:translateX(-50%);color:#ff0000">--</div><div class="b" style="right:82.40px;top:576.10px;color:#ff0000">0.001340</div><div class="b" style="right:160.80px;top:413.10px;color:#00ffff">NZD</div><div class="b" style="right:82.20px;top:413.10px;color:#00ffff">0.002919</div><div class="b" style="right:160.80px;top:429.10px;color:#4169e1">AUD</div><div class="b" style="right:82.20px;top:429.10px;color:#4169e1">0.002042</div><div class="b" style="right:160.80px;top:445.10px;color:#32cd32">JPY</div><div class="b" style="right:82.20px;top:445.10px;color:#32cd32">0.001310</div><div class="b" style="right:160.80px;top:461.10px;color:#ffffff">USD</div><div class="b" style="right:82.20px;top:461.10px;color:#ffffff">0.000579</div><div class="b" style="right:160.80px;top:477.10px;color:#ff0000">EUR</div><div class="b" style="right:82.20px;top:477.10px;color:#ff0000">0.001056</div><div class="b" style="right:160.80px;top:493.10px;color:#ff8c00">GBP</div><div class="b" style="right:82.20px;top:493.10px;color:#ff8c00">0.001178</div><div class="b" style="right:160.80px;top:509.10px;color:#ff00ff">CAD</div><div class="b" style="right:82.20px;top:509.10px;color:#ff00ff">0.002175</div><div class="b" style="right:160.80px;top:525.10px;color:#ffff00">CHF</div><div class="b" style="right:82.20px;top:525.10px;color:#ffff00">0.002439</div>
<div id="ban"></div>
<div id="bt"><span style="left:153.14px;transform:scaleX(1.0197)">C</span><span style="left:205.44px;transform:scaleX(1.0197)">C</span><span style="left:260.58px;transform:scaleX(0.9440)">F</span><span style="left:306.85px;transform:scaleX(1.0299)">P</span><span style="left:379.96px;transform:scaleX(1.0286)">I</span><span style="left:402.92px;transform:scaleX(1.0552)">N</span><span style="left:462.55px;transform:scaleX(1.1094)">D</span><span style="left:523.29px;transform:scaleX(0.9619)">I</span><span style="left:544.79px;transform:scaleX(1.0041)">C</span><span style="left:594.79px;transform:scaleX(1.1051)">A</span><span style="left:648.64px;transform:scaleX(1.0171)">T</span><span style="left:693.14px;transform:scaleX(1.0524)">O</span><span style="left:756.29px;transform:scaleX(0.9412)">R</span></div>
</body></html>
